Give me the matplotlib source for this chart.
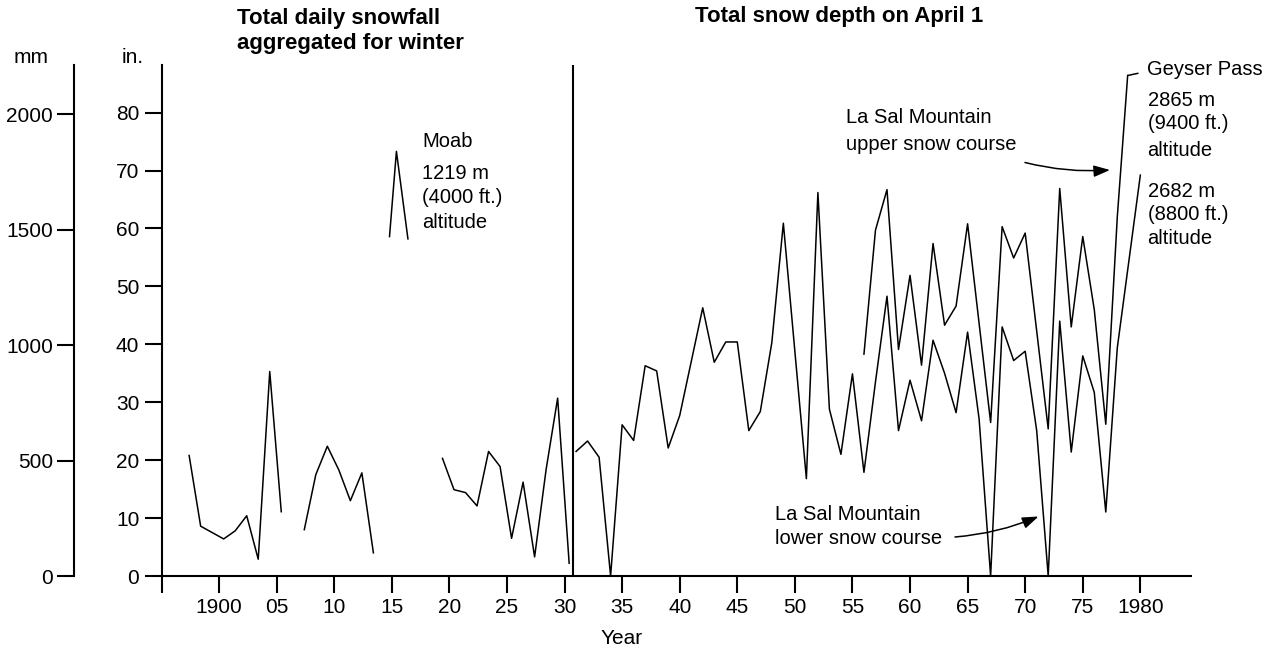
import numpy as np
import matplotlib
matplotlib.use("Agg")
import matplotlib.pyplot as plt

plt.rcParams['font.family'] = ['Liberation Sans', 'DejaVu Sans']

# ---------------- data ----------------
# Moab: total daily snowfall aggregated for winter (inches); winter starting year
moab_years = list(range(1897, 1931))
moab_vals = [20.8, 8.6, 7.5, 6.4, 7.8, 10.4, 2.9, 35.3, 11.1, np.nan,
             8.0, 17.5, 22.4, 18.3, 13.0, 17.8, 4.0,
             np.nan, np.nan, np.nan, np.nan, np.nan,
             20.3, 14.9, 14.4, 12.1, 21.5, 18.9, 6.5, 16.2, 3.3, 18.4, 30.7, 2.2]

# small key mark drawn next to the Moab label
moab_key_years = [1914.8, 1915.4, 1916.4]
moab_key_vals = [58.6, 73.3, 58.2]

# La Sal Mountain lower snow course: total snow depth on April 1 (inches)
lower_years = list(range(1931, 1979)) + [1980]
lower_vals = [21.5, 23.3, 20.5, 0.0, 26.1, 23.4, 36.3, 35.4, 22.1, 27.7,
              37.0, 46.3, 36.9, 40.4, 40.4, 25.1, 28.4, 40.3, 60.9, 38.8,
              16.8, 66.2, 28.8, 21.0, 34.9, 17.9, 33.5, 48.3, 25.1, 33.8,
              26.8, 40.7, 35.0, 28.2, 42.1, 27.1, 0.0, 43.0, 37.2, 38.8,
              25.1, 0.0, 44.0, 21.4, 38.0, 31.7, 11.05, 39.4, 69.2]

# La Sal Mountain upper snow course (inches)
upper_years = list(range(1956, 1979)) + [1978.9]
upper_vals = [38.3, 59.7, 66.7, 39.1, 51.9, 36.4, 57.4, 43.3, 46.6, 60.8,
              43.6, 26.5, 60.3, 54.9, 59.2, 42.3, 25.4, 66.9, 43.0, 58.6,
              46.0, 26.2, 62.0, 86.4]

x_ticks = list(range(1895, 1985, 5))
x_ticklabels = ['', '1900', '05', '10', '15', '20', '25', '30', '35', '40',
                '45', '50', '55', '60', '65', '70', '75', '1980']
in_ticks = list(range(0, 90, 10))
mm_ticks = [0, 500, 1000, 1500, 2000]

# ---------------- figure ----------------
W, H = 1275, 650
fig = plt.figure(figsize=(W / 100, H / 100), dpi=100)
L, R, B, T = 161.5, 1191, 576, 64.5
ax = fig.add_axes([L / W, 1 - B / H, (R - L) / W, (B - T) / H])
ax.set_xlim(1895, 1984.4)
ax.set_ylim(0, 88.3)

lw_data = 1.1
ax.plot(np.array(moab_years) + 0.4, moab_vals, color='black', lw=lw_data)
ax.plot(moab_key_years, moab_key_vals, color='black', lw=lw_data)
ax.plot(lower_years, lower_vals, color='black', lw=lw_data)
ax.plot(upper_years, upper_vals, color='black', lw=lw_data)

ax.axvline(1930.75, color='black', lw=1.5)

for s in ['top', 'right']:
    ax.spines[s].set_visible(False)
for s in ['left', 'bottom']:
    ax.spines[s].set_linewidth(1.5)

ax.set_xticks(x_ticks)
ax.set_xticklabels(x_ticklabels)
ax.set_yticks(in_ticks)
ax.tick_params(axis='both', length=12, width=1.5, direction='out',
               labelsize=15, pad=4)

# mm axis
ax2 = ax.twinx()
ax2.set_ylim(0, 2215)
for s in ['top', 'right', 'bottom']:
    ax2.spines[s].set_visible(False)
ax2.spines['left'].set_visible(True)
ax2.spines['left'].set_position(('outward', 63))
ax2.spines['left'].set_linewidth(1.5)
ax2.yaxis.set_ticks_position('left')
ax2.yaxis.set_label_position('left')
ax2.set_yticks(mm_ticks)
ax2.tick_params(axis='y', length=12, width=1.5, direction='out',
                labelsize=15, pad=3)


def ftext(px, py, s, **kw):
    kw.setdefault('fontsize', 14.5)
    kw.setdefault('va', 'center')
    fig.text(px / W, 1 - py / H, s, **kw)


ftext(30.7, 57.3, 'mm', ha='center', fontsize=15)
ftext(132.7, 57.3, 'in.', ha='center', fontsize=15)
ftext(621.7, 638.3, 'Year', ha='center', fontsize=15)

ftext(237, 18.3, 'Total daily snowfall', ha='left', fontsize=16, fontweight='bold')
ftext(237, 43.3, 'aggregated for winter', ha='left', fontsize=16, fontweight='bold')
ftext(695, 16.7, 'Total snow depth on April 1', ha='left', fontsize=16, fontweight='bold')

ftext(422, 141.7, 'Moab')
ftext(422, 173.3, '1219 m')
ftext(422, 197.3, '(4000 ft.)')
ftext(422, 222.7, 'altitude')

ftext(1146.7, 69.3, 'Geyser Pass')
ftext(1147.5, 100, '2865 m')
ftext(1147.5, 123.3, '(9400 ft.)')
ftext(1147.5, 150, 'altitude')
ftext(1147.5, 191.7, '2682 m')
ftext(1147.5, 215, '(8800 ft.)')
ftext(1147.5, 238.3, 'altitude')

ftext(845.7, 117.3, 'La Sal Mountain')
ftext(845.7, 144.3, 'upper snow course')
ftext(775.4, 515, 'La Sal Mountain')
ftext(775.4, 538.3, 'lower snow course')

# leader tick to "Geyser Pass"
ax.annotate('', xy=(upper_years[-1], upper_vals[-1]),
            xytext=(1138, H - 73.3), textcoords='figure pixels',
            arrowprops=dict(arrowstyle='-', lw=lw_data, color='black',
                            shrinkA=0, shrinkB=0))

arrow_kw = dict(arrowstyle='-|>,head_length=0.7,head_width=0.25', lw=1.1,
                color='black', shrinkA=0, shrinkB=0, mutation_scale=14)
fig.patches  # noqa
ax.annotate('', xy=(1110, H - 170), xycoords='figure pixels',
            xytext=(1025, H - 162.5), textcoords='figure pixels',
            arrowprops=dict(connectionstyle='arc3,rad=0.08', **arrow_kw))
ax.annotate('', xy=(1038.5, H - 516.5), xycoords='figure pixels',
            xytext=(955, H - 537), textcoords='figure pixels',
            arrowprops=dict(connectionstyle='arc3,rad=0.08', **arrow_kw))

fig.savefig('out.png', dpi=100, facecolor='white')
